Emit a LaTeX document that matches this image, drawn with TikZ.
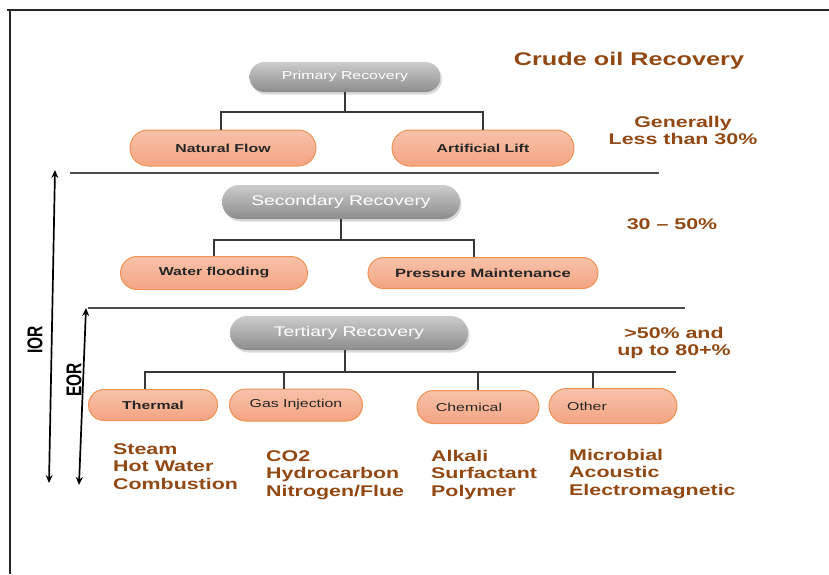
\documentclass[tikz,border=0pt]{standalone}
\usepackage{fontspec}
\setmainfont{Liberation Sans}
\usetikzlibrary{arrows.meta,shadows}
\definecolor{brn}{RGB}{146,72,18}
\definecolor{obord}{RGB}{240,146,82}
\definecolor{otop}{RGB}{248,194,170}
\definecolor{obot}{RGB}{243,164,130}
\definecolor{gtop}{RGB}{204,204,204}
\definecolor{gbot}{RGB}{140,140,140}
\definecolor{ln}{RGB}{55,55,55}
\newcommand{\sx}[1]{\scalebox{1.38}[1]{#1}}
\newcommand{\myfs}[2]{\fontsize{#1}{#2}\selectfont}
\begin{document}
\begin{tikzpicture}[x=1pt,y=-1pt,
 sz/.style n args={2}{minimum width=#1pt,minimum height=#2pt,rounded corners={#2pt/2}},
 pill/.style={rectangle, inner sep=0pt},
 graypill/.style={pill, top color=gtop, bottom color=gbot, draw=none, text=white,
   drop shadow={shadow xshift=1.5pt,shadow yshift=-2.5pt,opacity=0.3}},
 orpill/.style={pill, top color=otop, bottom color=obot, draw=obord, line width=1pt, text=black!85},
 conn/.style={draw=ln, line width=1.1pt},
 sepline/.style={draw=black!70, line width=1.5pt},
 brtext/.style={text=brn, font=\bfseries\myfs{15.5}{17.5}, inner sep=0pt},
 sidelabel/.style={text=black, font=\bfseries\myfs{15.5}{17.5}, inner sep=0pt},
 dbl/.style={line width=1.7pt, {Stealth[length=8pt,width=7pt]}-{Stealth[length=8pt,width=7pt]}}
]
\useasboundingbox (0,0) rectangle (829,574);
% frame
\draw[line width=1.2pt, black!85] (7,10) -- (829,10);
\draw[line width=1.2pt, black!85] (10,10) -- (10,574);

% title
\node[text=brn, font=\bfseries\myfs{18.3}{22}, inner sep=0pt, anchor=base] (title) at (629,65) {\sx{Crude oil Recovery}};

% primary
\node[graypill, sz={191}{30}, font=\myfs{11.5}{13}] (prim) at (345,77) {\sx{Primary Recovery}};
\node[orpill, sz={186}{36}, font=\bfseries\myfs{11.5}{13}] (nf) at (223,148) {\sx{Natural Flow}};
\node[orpill, sz={182}{36}, font=\bfseries\myfs{11.5}{13}] (al) at (483,148) {\sx{Artificial Lift}};
\coordinate (pj) at (345,112);
\draw[conn] (prim.south) -- (pj);
\draw[conn] ([xshift=-2pt]nf.north) |- (pj) -| (al.north);

\node[brtext, anchor=base] (p1) at (683,127) {\sx{\begin{tabular}[t]{@{}c@{}}Generally\\Less than 30\%\end{tabular}}};

% separator 1
\draw[sepline] (70,173) -- (659,173);

% secondary
\node[graypill, sz={238}{34}, font=\myfs{14}{16}] (sec) at (341,202) {\sx{Secondary Recovery}};
\node[orpill, sz={187}{33}, font=\bfseries\myfs{11.5}{13}] (wf) at (214,273) {\sx{Water flooding}};
\node[orpill, sz={230}{31}, font=\bfseries\myfs{12}{14}] (pm) at (483,273) {\sx{Pressure Maintenance}};
\coordinate (sj) at (341,240);
\draw[conn] (sec.south) -- (sj);
\draw[conn] (wf.north) |- (sj) -| ([xshift=-9pt]pm.north);

\node[brtext, anchor=base] (p2) at (672,229) {\sx{30 -- 50\%}};

% separator 2
\draw[sepline] (88,308) -- (685,308);

% tertiary
\node[graypill, sz={238}{34}, font=\myfs{14}{16}] (ter) at (349,333) {\sx{Tertiary Recovery}};
\node[orpill, sz={129}{31}, font=\bfseries\myfs{11.5}{13}] (th) at (153,405) {\sx{Thermal}};
\node[orpill, sz={133}{32}, font=\myfs{11.5}{13}] (gi) at (296,405) {\sx{Gas Injection}};
\node[orpill, sz={122}{33}, font=\myfs{11.5}{13}] (ch) at (478,407) {\sx{Chemical}\kern18pt};
\node[orpill, sz={128}{35}, font=\myfs{11.5}{13}] (ot) at (613,406) {\sx{Other}\kern52pt};
\coordinate (tj) at (345,372);
\coordinate (tend) at (676,372);
\draw[conn] (ter.south -| tj) -- (tj);
\draw[conn] ([xshift=-8pt]th.north) |- (tend);
\draw[conn] ([xshift=-12pt]gi.north) -- ([xshift=-12pt]gi.north |- tj);
\draw[conn] (ch.north) -- (ch.north |- tj);
\draw[conn] ([xshift=-20pt]ot.north) -- ([xshift=-20pt]ot.north |- tj);

\node[brtext, anchor=base] (p3) at (674,338) {\sx{\begin{tabular}[t]{@{}c@{}}>50\% and\\up to 80+\%\end{tabular}}};

% lists
\node[brtext, anchor=base west] (l1) at (113,454) {\sx{\begin{tabular}[t]{@{}l@{}}Steam\\Hot Water\\Combustion\end{tabular}}};
\node[brtext, anchor=base west] (l2) at (266,461) {\sx{\begin{tabular}[t]{@{}l@{}}CO2\\Hydrocarbon\\Nitrogen/Flue\end{tabular}}};
\node[brtext, anchor=base west] (l3) at (431,461) {\sx{\begin{tabular}[t]{@{}l@{}}Alkali\\Surfactant\\Polymer\end{tabular}}};
\node[brtext, anchor=base west] (l4) at (569,460) {\sx{\begin{tabular}[t]{@{}l@{}}Microbial\\Acoustic\\Electromagnetic\end{tabular}}};

% IOR / EOR arrows
\coordinate (i1) at (55,170);
\coordinate (i2) at (49,483);
\draw[dbl] (i1) -- (i2);
\node[sidelabel] (ior) at (35,340) {\sx{\rotatebox{90}{IOR}}};
\coordinate (e1) at (86,308);
\coordinate (e2) at (79,485);
\draw[dbl] (e1) -- (e2);
\node[sidelabel] (eor) at (74,380) {\sx{\rotatebox{90}{EOR}}};
\end{tikzpicture}
\end{document}
